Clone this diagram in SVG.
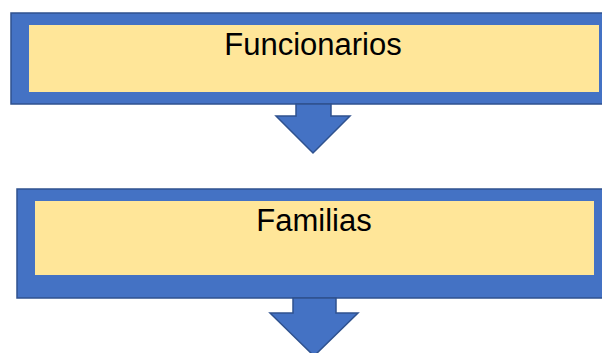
<svg xmlns="http://www.w3.org/2000/svg" width="602" height="353" viewBox="0 0 602 353">
<style>
.outer{fill:#4472C4;stroke:#2F528F;stroke-width:1.5}
.inner{fill:#FFE699;stroke:none}
.arrow{fill:#4472C4;stroke:#2F528F;stroke-width:1.5;stroke-linejoin:miter}
.lbl{font-family:"Liberation Sans",Arial,sans-serif;font-size:31px;fill:#000;text-anchor:middle}
</style>
<rect width="602" height="353" fill="#fff"/>
<g id="node-funcionarios">
<rect class="outer" x="11" y="13" width="600" height="91"/>
<rect class="inner" x="29" y="25" width="570" height="67"/>
<text class="lbl" x="313" y="55">Funcionarios</text>
</g>
<g id="node-familias">
<rect class="outer" x="17" y="189" width="600" height="109"/>
<rect class="inner" x="35" y="201" width="559" height="74"/>
<text class="lbl" x="314" y="231">Familias</text>
</g>
<g id="connectors">
<polygon class="arrow" points="296,104 331,104 331,116 350,116 313,153 276,116 296,116"/>
<polygon class="arrow" points="293,298 336,298 336,313 358,313 314,356 270,313 293,313"/>
</g>
</svg>
